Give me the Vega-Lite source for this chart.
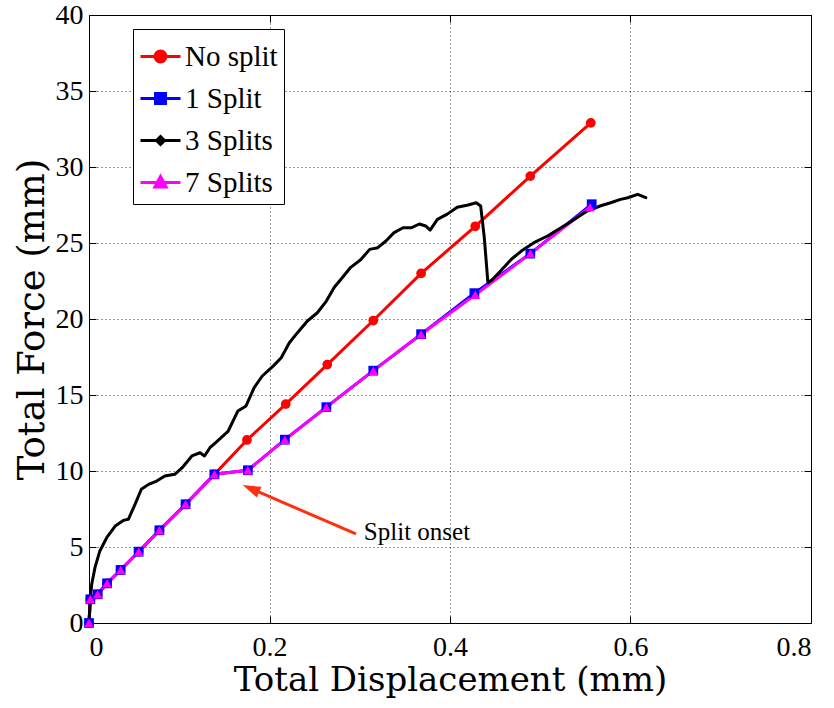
{
  "$schema": "https://vega.github.io/schema/vega-lite/v6.json",
  "width": 722,
  "height": 608,
  "padding": {"left": 13, "top": 1, "right": 5, "bottom": 5},
  "background": "white",
  "config": {
    "view": {"stroke": "black", "strokeWidth": 1},
    "axis": {
      "domainColor": "black",
      "tickColor": "black",
      "labelColor": "black",
      "titleColor": "black",
      "labelFont": "Liberation Serif",
      "labelFontSize": 28,
      "titleFont": "DejaVu Serif",
      "titleFontSize": 34,
      "titleFontWeight": "normal",
      "gridColor": "black",
      "gridDash": [1, 3],
      "gridOpacity": 0.8,
      "tickSize": -7
    },
    "legend": {
      "labelFont": "Liberation Serif",
      "labelFontSize": 29,
      "labelColor": "black"
    }
  },
  "datasets": {
    "curves": [
      {"series": "No split", "x": 0, "y": 0},
      {"series": "No split", "x": 0.0015, "y": 1.56},
      {"series": "No split", "x": 0.0096, "y": 1.89},
      {"series": "No split", "x": 0.020, "y": 2.61},
      {"series": "No split", "x": 0.035, "y": 3.49},
      {"series": "No split", "x": 0.055, "y": 4.69},
      {"series": "No split", "x": 0.078, "y": 6.10},
      {"series": "No split", "x": 0.107, "y": 7.81},
      {"series": "No split", "x": 0.139, "y": 9.78},
      {"series": "No split", "x": 0.175, "y": 12.04},
      {"series": "No split", "x": 0.218, "y": 14.4},
      {"series": "No split", "x": 0.264, "y": 17.0},
      {"series": "No split", "x": 0.315, "y": 19.9},
      {"series": "No split", "x": 0.368, "y": 23.0},
      {"series": "No split", "x": 0.428, "y": 26.1},
      {"series": "No split", "x": 0.489, "y": 29.4},
      {"series": "No split", "x": 0.556, "y": 32.9},
      {"series": "1 Split", "x": 0, "y": 0},
      {"series": "1 Split", "x": 0.0015, "y": 1.56},
      {"series": "1 Split", "x": 0.0096, "y": 1.89},
      {"series": "1 Split", "x": 0.020, "y": 2.61},
      {"series": "1 Split", "x": 0.035, "y": 3.49},
      {"series": "1 Split", "x": 0.055, "y": 4.69},
      {"series": "1 Split", "x": 0.078, "y": 6.10},
      {"series": "1 Split", "x": 0.107, "y": 7.81},
      {"series": "1 Split", "x": 0.139, "y": 9.78},
      {"series": "1 Split", "x": 0.176, "y": 10.05},
      {"series": "1 Split", "x": 0.217, "y": 12.06},
      {"series": "1 Split", "x": 0.263, "y": 14.2},
      {"series": "1 Split", "x": 0.315, "y": 16.6},
      {"series": "1 Split", "x": 0.368, "y": 19.0},
      {"series": "1 Split", "x": 0.427, "y": 21.7},
      {"series": "1 Split", "x": 0.489, "y": 24.3},
      {"series": "1 Split", "x": 0.557, "y": 27.55},
      {"series": "7 Splits", "x": 0, "y": 0},
      {"series": "7 Splits", "x": 0.0015, "y": 1.56},
      {"series": "7 Splits", "x": 0.0096, "y": 1.89},
      {"series": "7 Splits", "x": 0.020, "y": 2.61},
      {"series": "7 Splits", "x": 0.035, "y": 3.49},
      {"series": "7 Splits", "x": 0.055, "y": 4.69},
      {"series": "7 Splits", "x": 0.078, "y": 6.10},
      {"series": "7 Splits", "x": 0.107, "y": 7.81},
      {"series": "7 Splits", "x": 0.139, "y": 9.78},
      {"series": "7 Splits", "x": 0.176, "y": 10.05},
      {"series": "7 Splits", "x": 0.217, "y": 12.06},
      {"series": "7 Splits", "x": 0.263, "y": 14.2},
      {"series": "7 Splits", "x": 0.315, "y": 16.6},
      {"series": "7 Splits", "x": 0.368, "y": 19.0},
      {"series": "7 Splits", "x": 0.428, "y": 21.6},
      {"series": "7 Splits", "x": 0.489, "y": 24.3},
      {"series": "7 Splits", "x": 0.555, "y": 27.35},
      {"series": "3 Splits", "x": 0, "y": 0},
      {"series": "3 Splits", "x": 0.001, "y": 1.3},
      {"series": "3 Splits", "x": 0.003, "y": 2.55},
      {"series": "3 Splits", "x": 0.0066, "y": 3.64},
      {"series": "3 Splits", "x": 0.012, "y": 4.74},
      {"series": "3 Splits", "x": 0.0196, "y": 5.61},
      {"series": "3 Splits", "x": 0.029, "y": 6.38},
      {"series": "3 Splits", "x": 0.038, "y": 6.75},
      {"series": "3 Splits", "x": 0.0436, "y": 6.82},
      {"series": "3 Splits", "x": 0.051, "y": 7.81},
      {"series": "3 Splits", "x": 0.058, "y": 8.8},
      {"series": "3 Splits", "x": 0.066, "y": 9.12},
      {"series": "3 Splits", "x": 0.075, "y": 9.34},
      {"series": "3 Splits", "x": 0.084, "y": 9.67},
      {"series": "3 Splits", "x": 0.095, "y": 9.78},
      {"series": "3 Splits", "x": 0.103, "y": 10.2},
      {"series": "3 Splits", "x": 0.114, "y": 10.99},
      {"series": "3 Splits", "x": 0.123, "y": 11.2},
      {"series": "3 Splits", "x": 0.128, "y": 10.99},
      {"series": "3 Splits", "x": 0.134, "y": 11.53},
      {"series": "3 Splits", "x": 0.141, "y": 11.9},
      {"series": "3 Splits", "x": 0.154, "y": 12.6},
      {"series": "3 Splits", "x": 0.165, "y": 13.95},
      {"series": "3 Splits", "x": 0.174, "y": 14.28},
      {"series": "3 Splits", "x": 0.183, "y": 15.48},
      {"series": "3 Splits", "x": 0.192, "y": 16.25},
      {"series": "3 Splits", "x": 0.204, "y": 16.9},
      {"series": "3 Splits", "x": 0.213, "y": 17.45},
      {"series": "3 Splits", "x": 0.222, "y": 18.44},
      {"series": "3 Splits", "x": 0.231, "y": 19.1},
      {"series": "3 Splits", "x": 0.242, "y": 19.87},
      {"series": "3 Splits", "x": 0.253, "y": 20.41},
      {"series": "3 Splits", "x": 0.263, "y": 21.18},
      {"series": "3 Splits", "x": 0.272, "y": 22.1},
      {"series": "3 Splits", "x": 0.279, "y": 22.6},
      {"series": "3 Splits", "x": 0.29, "y": 23.4},
      {"series": "3 Splits", "x": 0.301, "y": 23.9},
      {"series": "3 Splits", "x": 0.311, "y": 24.58},
      {"series": "3 Splits", "x": 0.32, "y": 24.69},
      {"series": "3 Splits", "x": 0.329, "y": 25.13},
      {"series": "3 Splits", "x": 0.338, "y": 25.68},
      {"series": "3 Splits", "x": 0.348, "y": 26.0},
      {"series": "3 Splits", "x": 0.357, "y": 26.0},
      {"series": "3 Splits", "x": 0.366, "y": 26.25},
      {"series": "3 Splits", "x": 0.373, "y": 26.12},
      {"series": "3 Splits", "x": 0.378, "y": 25.85},
      {"series": "3 Splits", "x": 0.386, "y": 26.55},
      {"series": "3 Splits", "x": 0.397, "y": 26.9},
      {"series": "3 Splits", "x": 0.408, "y": 27.35},
      {"series": "3 Splits", "x": 0.42, "y": 27.5},
      {"series": "3 Splits", "x": 0.429, "y": 27.65},
      {"series": "3 Splits", "x": 0.434, "y": 27.43},
      {"series": "3 Splits", "x": 0.438, "y": 25.35},
      {"series": "3 Splits", "x": 0.442, "y": 22.39},
      {"series": "3 Splits", "x": 0.447, "y": 22.6},
      {"series": "3 Splits", "x": 0.456, "y": 23.16},
      {"series": "3 Splits", "x": 0.468, "y": 23.93},
      {"series": "3 Splits", "x": 0.479, "y": 24.47},
      {"series": "3 Splits", "x": 0.493, "y": 25.02},
      {"series": "3 Splits", "x": 0.508, "y": 25.46},
      {"series": "3 Splits", "x": 0.523, "y": 26.0},
      {"series": "3 Splits", "x": 0.538, "y": 26.56},
      {"series": "3 Splits", "x": 0.552, "y": 27.1},
      {"series": "3 Splits", "x": 0.567, "y": 27.45},
      {"series": "3 Splits", "x": 0.578, "y": 27.65},
      {"series": "3 Splits", "x": 0.589, "y": 27.87},
      {"series": "3 Splits", "x": 0.597, "y": 27.98},
      {"series": "3 Splits", "x": 0.608, "y": 28.2},
      {"series": "3 Splits", "x": 0.617, "y": 27.98}
    ],
    "arrow": [
      {"x": 0.2958, "y": 5.86, "x2": 0.1794, "y2": 8.84}
    ],
    "arrowhead": [
      {"x": 0.1794, "y": 8.84}
    ],
    "label": [
      {"x": 0.3634, "y": 6.0, "text": "Split onset"}
    ]
  },
  "resolve": {"axis": {"x": "independent", "y": "independent"}},
  "layer": [
    {
      "data": {"name": "curves"},
      "mark": {"type": "line", "strokeJoin": "round", "strokeCap": "round"},
      "encoding": {
        "x": {
          "field": "x", "type": "quantitative",
          "scale": {"domain": [0, 0.8], "nice": false, "zero": false},
          "axis": {
            "orient": "bottom",
            "values": [0, 0.2, 0.4, 0.6, 0.8],
            "labelExpr": "datum.value",
            "title": "Total Displacement (mm)",
            "labelPadding": 17,
            "titlePadding": 2,
            "grid": true
          }
        },
        "y": {
          "field": "y", "type": "quantitative",
          "scale": {"domain": [0, 40], "nice": false},
          "axis": {
            "orient": "left",
            "values": [0, 5, 10, 15, 20, 25, 30, 35, 40],
            "title": "Total Force (mm)",
            "titleFontSize": 37,
            "labelPadding": 13,
            "titlePadding": 4,
            "grid": true
          }
        },
        "color": {
          "field": "series", "type": "nominal",
          "scale": {
            "domain": ["No split", "1 Split", "3 Splits", "7 Splits"],
            "range": ["#ff0000", "#0000ff", "#000000", "#ff00ff"]
          },
          "legend": {
            "title": null,
            "orient": "none",
            "legendX": 44,
            "legendY": 14,
            "strokeColor": "black",
            "fillColor": "white",
            "padding": 6,
            "symbolSize": 1600,
            "labelOffset": 3,
            "rowPadding": 5,
            "encode": {
              "symbols": {
                "update": {
                  "shape": {"signal": "datum.value === 'No split' ? 'M-1,0H1M0.27,0A0.27,0.27 0 1,1 -0.27,0A0.27,0.27 0 1,1 0.27,0Z' : datum.value === '1 Split' ? 'M-1,0H1M-0.25,-0.25H0.25V0.25H-0.25Z' : datum.value === '3 Splits' ? 'M-1,0H1M0,-0.2L0.2,0L0,0.2L-0.2,0Z' : 'M-1,0H1M0,-0.3L0.28,0.22L-0.28,0.22Z'"},
                  "fill": {"signal": "scale('color', datum.value)"},
                  "stroke": {"signal": "scale('color', datum.value)"},
                  "strokeWidth": {"value": 3},
                  "opacity": {"value": 1}
                }
              }
            }
          }
        },
        "strokeWidth": {
          "field": "series", "type": "nominal",
          "scale": {
            "domain": ["No split", "1 Split", "3 Splits", "7 Splits"],
            "range": [3, 3, 4.5, 3]
          },
          "legend": null
        }
      }
    },
    {
      "data": {"name": "curves"},
      "transform": [{"filter": "datum.series !== '3 Splits'"}],
      "mark": {"type": "point", "filled": true, "opacity": 1, "size": 95},
      "encoding": {
        "x": {
          "field": "x", "type": "quantitative",
          "axis": {"orient": "top", "labels": false, "title": null, "domain": false, "grid": false, "values": [0, 0.2, 0.4, 0.6, 0.8]}
        },
        "y": {
          "field": "y", "type": "quantitative",
          "axis": {"orient": "right", "labels": false, "title": null, "domain": false, "grid": false, "values": [0, 5, 10, 15, 20, 25, 30, 35, 40]}
        },
        "color": {"field": "series", "type": "nominal"},
        "shape": {
          "field": "series", "type": "nominal",
          "scale": {
            "domain": ["No split", "1 Split", "7 Splits"],
            "range": ["circle", "square", "triangle-up"]
          },
          "legend": null
        }
      }
    },
    {
      "data": {"name": "arrow"},
      "mark": {"type": "rule", "color": "#ff3010", "strokeWidth": 3},
      "encoding": {
        "x": {"field": "x", "type": "quantitative", "axis": null},
        "y": {"field": "y", "type": "quantitative", "axis": null},
        "x2": {"field": "x2"},
        "y2": {"field": "y2"}
      }
    },
    {
      "data": {"name": "arrowhead"},
      "mark": {"type": "point", "filled": true, "opacity": 1, "color": "#ff3010", "shape": "M0,-1L0.65,1L-0.65,1Z", "size": 324, "angle": 293.5},
      "encoding": {
        "x": {"field": "x", "type": "quantitative", "axis": null},
        "y": {"field": "y", "type": "quantitative", "axis": null}
      }
    },
    {
      "data": {"name": "label"},
      "mark": {"type": "text", "font": "Liberation Serif", "fontSize": 25, "align": "center", "baseline": "middle", "color": "black"},
      "encoding": {
        "x": {"field": "x", "type": "quantitative", "axis": null},
        "y": {"field": "y", "type": "quantitative", "axis": null},
        "text": {"field": "text"}
      }
    }
  ]
}
